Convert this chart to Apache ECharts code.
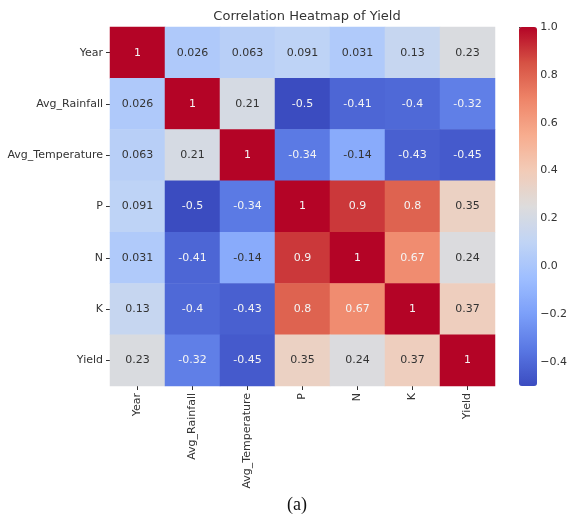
<!DOCTYPE html>
<html>
<head>
<meta charset="utf-8">
<script src="https://cdn.jsdelivr.net/npm/echarts@6/dist/echarts.min.js"></script>
<style>
  html, body { margin: 0; padding: 0; background: #fff; }
  #grid { width: 570px; height: 516px; }
</style>
</head>
<body>
<div id="grid"></div>
<script>
const labels = ['Year', 'Avg_Rainfall', 'Avg_Temperature', 'P', 'N', 'K', 'Yield'];

const corr = [
  [1, 0.026, 0.063, 0.091, 0.031, 0.13, 0.23],
  [0.026, 1, 0.21, -0.5, -0.41, -0.4, -0.32],
  [0.063, 0.21, 1, -0.34, -0.14, -0.43, -0.45],
  [0.091, -0.5, -0.34, 1, 0.9, 0.8, 0.35],
  [0.031, -0.41, -0.14, 0.9, 1, 0.67, 0.24],
  [0.13, -0.4, -0.43, 0.8, 0.67, 1, 0.37],
  [0.23, -0.32, -0.45, 0.35, 0.24, 0.37, 1],
];

const barTicks = [-0.4, -0.2, 0, 0.2, 0.4, 0.6, 0.8, 1.0];

// coolwarm
const coolwarm = [
  '#3b4cc0', '#5977e3', '#7b9ff9', '#9ebeff', '#c0d4f5',
  '#dddcdc', '#f2cbb7', '#f7ac8e', '#ee8468', '#d65244', '#b40426',
];

const myChart = echarts.init(document.getElementById('grid'));

let cells = [];
corr.forEach((row, i) => {
  row.forEach((v, j) => {
    let light = v < -0.2 || v > 0.6;
    cells.push({
      value: [j, i, v],
      label: { color: light ? '#f4f4f4' : '#333333' },
    });
  });
});

const font = 'DejaVu Sans';
const txt = '#333333';

const option = {
  animation: false,
  title: {
    text: 'Correlation Heatmap of Yield',
    left: 302,
    top: 5,
    textAlign: 'center',
    textStyle: { fontFamily: font, fontSize: 13, fontWeight: 'normal', color: txt },
  },
  graphic: [
    {
      type: 'text',
      left: 287,
      top: 496,
      style: { text: '(a)', font: '18px "Liberation Serif"', fill: '#111' },
    },
  ],
  grid: [
    { left: 110, top: 27, width: 385, height: 359 },
    { left: 519, top: 27, width: 18, height: 359 },
  ],
  xAxis: [
    {
      type: 'category',
      data: labels,
      gridIndex: 0,
      axisLine: { show: false },
      axisTick: { show: true, length: 4, lineStyle: { color: txt }, alignWithLabel: true },
      axisLabel: { rotate: 90, fontFamily: font, fontSize: 11, color: txt, margin: 7 },
      splitLine: { show: false },
    },
    { type: 'value', gridIndex: 1, show: false },
  ],
  yAxis: [
    {
      type: 'category',
      data: labels,
      inverse: true,
      gridIndex: 0,
      axisLine: { show: false },
      axisTick: { show: true, length: 4, lineStyle: { color: txt }, alignWithLabel: true },
      axisLabel: { fontFamily: font, fontSize: 11, color: txt, margin: 7 },
      splitLine: { show: false },
    },
    {
      type: 'value',
      gridIndex: 1,
      position: 'right',
      min: -0.5,
      max: 1,
      axisLine: { show: false },
      splitLine: { show: false },
      axisTick: {
        show: true,
        length: 4,
        customValues: barTicks,
        lineStyle: { color: txt },
      },
      axisLabel: {
        customValues: barTicks,
        margin: 6,
        fontFamily: font,
        fontSize: 11,
        color: txt,
        formatter: (v) => v.toFixed(1).replace('-', '\u2212'),
      },
    },
  ],
  visualMap: {
    type: 'continuous',
    min: -0.5,
    max: 1,
    seriesIndex: 0,
    calculable: false,
    realtime: false,
    left: 519,
    top: 27,
    padding: 0,
    itemWidth: 18,
    itemHeight: 359,
    text: null,
    showLabel: false,
    inRange: { color: coolwarm },
  },
  series: [
    {
      type: 'heatmap',
      xAxisIndex: 0,
      yAxisIndex: 0,
      data: cells,
      label: {
        show: true,
        fontFamily: font,
        fontSize: 11,
        formatter: (p) => String(p.value[2]),
      },
      emphasis: { disabled: true },
    },
    {
      type: 'scatter',
      xAxisIndex: 1,
      yAxisIndex: 1,
      data: [],
    },
  ],
};

myChart.setOption(option);
</script>
</body>
</html>
